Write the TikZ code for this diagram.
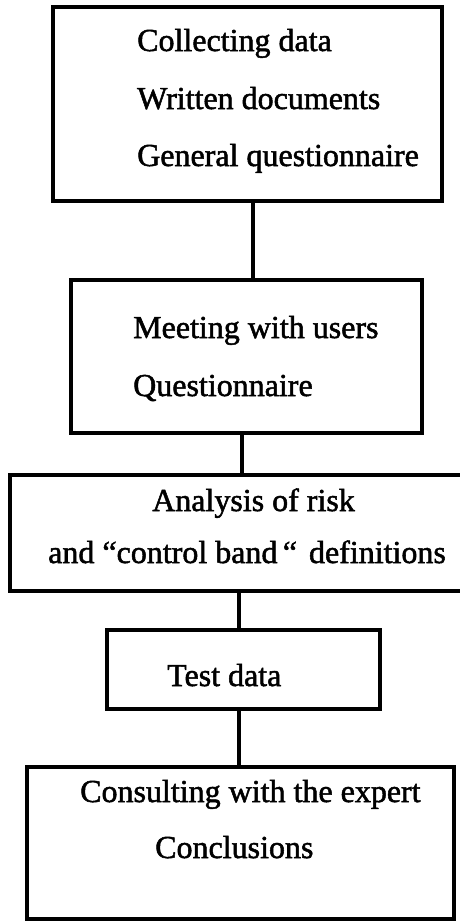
\documentclass[tikz,border=0pt]{standalone}
\usepackage{fontspec}
\setmainfont{Liberation Serif}[FakeBold=1.6]
\begin{document}
\begin{tikzpicture}[x=1pt,y=-1pt,
  box/.style={draw,line width=3.2pt,rectangle,inner sep=0pt},
  label/.style={anchor=base west,inner sep=0pt,font=\fontsize{32}{38}\selectfont},
  link/.style={line width=3.2pt}]
\useasboundingbox (0,0) rectangle (459,921);

% process boxes
\node[box,minimum width=389pt,minimum height=194pt] (b1) at (247.5,104) {};
\node[box,minimum width=351pt,minimum height=153pt] (b2) at (246.5,356.5) {};
\node[box,minimum width=460pt,minimum height=116pt] (b3) at (240,533) {};
\node[box,minimum width=273pt,minimum height=79pt]  (b4) at (243.5,669.5) {};
\node[box,minimum width=427pt,minimum height=152pt] (b5) at (240.5,843) {};

% box texts
\node[label] (t1a) at (137,51)  {Collecting data};
\node[label] (t1b) at (137,109) {Written documents};
\node[label] (t1c) at (137,166) {General questionnaire};
\node[label] (t2a) at (133,338) {Meeting with users};
\node[label] (t2b) at (133,396) {Questionnaire};
\node[label] (t3a) at (152,511) {Analysis of risk};
\node[label] (t3b) at (48,563)  {and “control band\,“ \hspace{4pt}definitions};
\node[label] (t4a) at (167,686) {Test data};
\node[label] (t5a) at (80,802)  {Consulting with the expert};
\node[label] (t5b) at (155,858) {Conclusions};

% connectors
\draw[link] (b1.south -| 253,0) -- (b2.north -| 253,0);
\draw[link] (b2.south -| 242,0) -- (b3.north -| 242,0);
\draw[link] (b3.south -| 239,0) -- (b4.north -| 239,0);
\draw[link] (b4.south -| 239,0) -- (b5.north -| 239,0);
\end{tikzpicture}
\end{document}
